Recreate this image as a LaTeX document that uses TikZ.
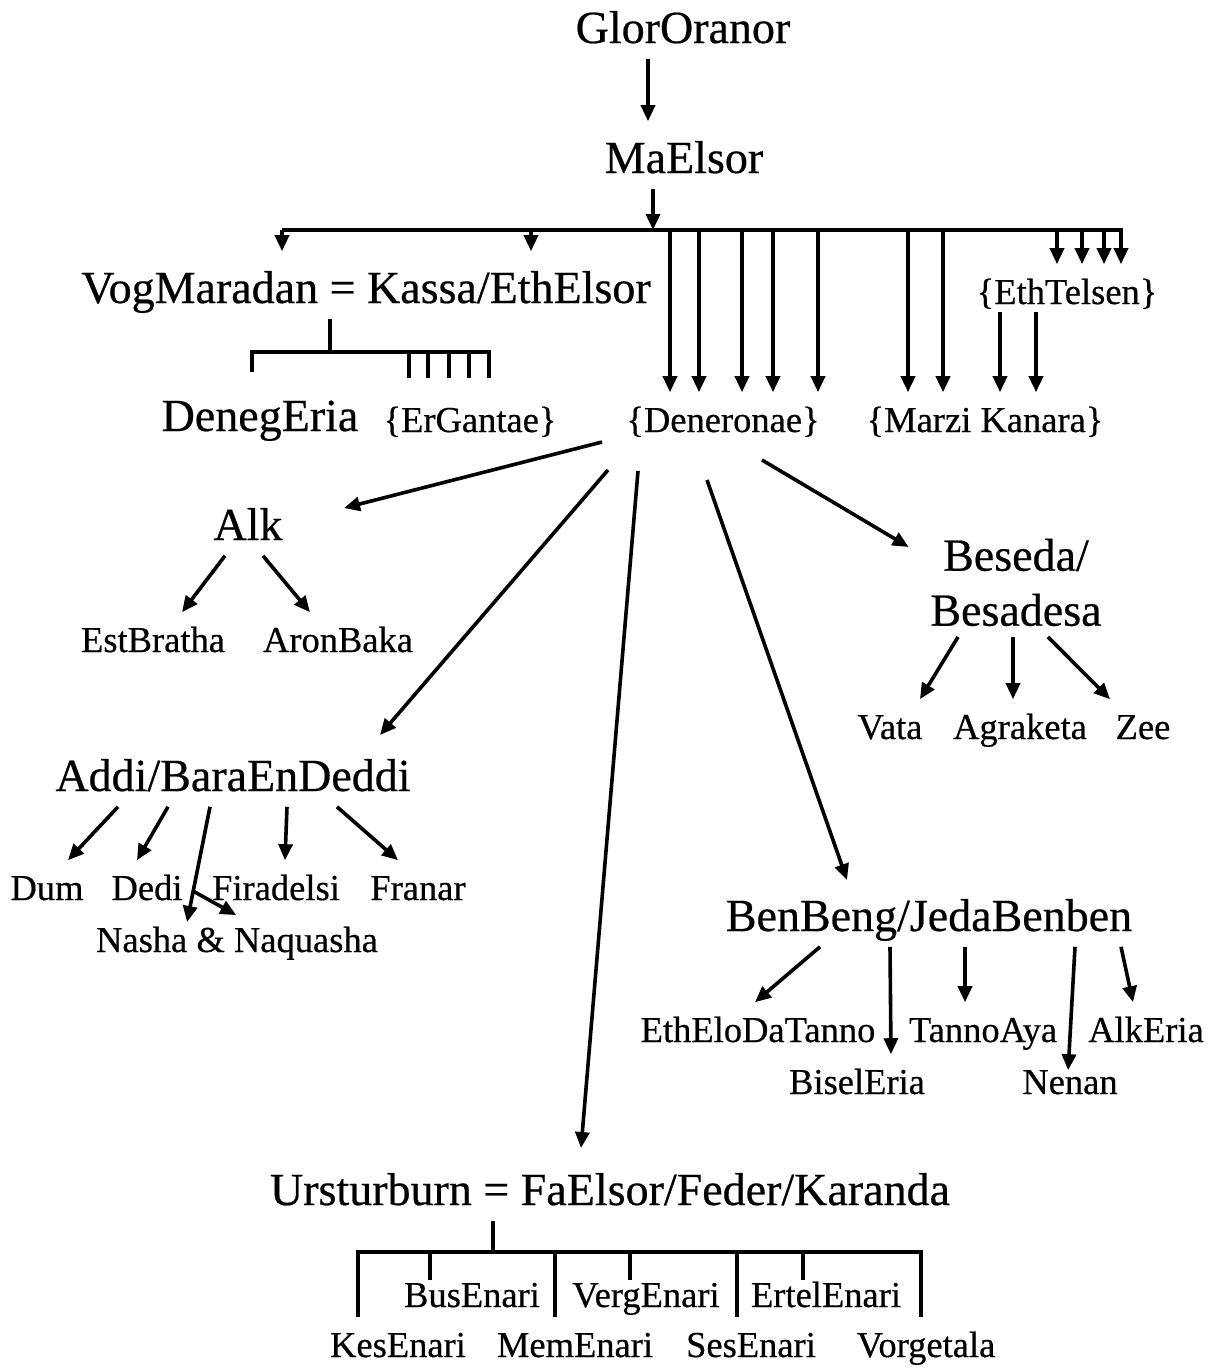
\documentclass[tikz,border=0pt]{standalone}
\usepackage{fontspec}
\setmainfont{Liberation Serif}[FakeBold=0.5]
\usetikzlibrary{arrows.meta}
\newcommand{\lblbig}{\fontsize{46}{55}\selectfont}
\newcommand{\lblsmall}{\fontsize{36.5}{40}\selectfont}

\begin{document}
\begin{tikzpicture}[x=1pt,y=-1pt,line width=3.6pt,
    arr/.style={-{Triangle[length=16pt,width=14pt]}},
    big/.style={font=\lblbig,inner sep=0pt,anchor=base,text height=50pt,text depth=14pt},
    small/.style={font=\lblsmall,inner sep=0pt,anchor=base,text height=38pt,text depth=6pt}]
  \useasboundingbox (0,0) rectangle (1209,1368);

  \node[big] (glor) at (683,43) {GlorOranor};
  \node[big] (mael) at (684,173) {MaElsor};

  \node[big] (vog) at (366,303) {VogMaradan = Kassa/EthElsor};
  \node[small] (ethtel) at (1067,304) {\{EthTelsen\}};
  \node[big] (deneg) at (260,431) {DenegEria};
  \node[small] (ergan) at (470,432) {\{ErGantae\}};
  \node[small] (den) at (723,432) {\{Deneronae\}};
  \node[small] (marzi) at (985,432) {\{Marzi Kanara\}};

  \node[big] (alk) at (248,540) {Alk};
  \node[small] (estb) at (153,652) {EstBratha};
  \node[small] (aron) at (338,652) {AronBaka};

  \node[font=\lblbig,align=center,inner xsep=0pt,inner ysep=9pt,anchor=north]
    (beseda) at (1016,528) {Beseda/\\Besadesa};
  \node[small] (vata) at (890,739) {Vata};
  \node[small] (agr) at (1020,739) {Agraketa};
  \node[small] (zee) at (1143,739) {Zee};

  \node[big] (addi) at (233,791) {Addi/BaraEnDeddi};
  \node[small] (dum) at (47,900) {Dum};
  \node[small] (dedi) at (147,900) {Dedi};
  \node[small] (fir) at (276,900) {Firadelsi};
  \node[small] (fran) at (418,900) {Franar};
  \node[small] (nasha) at (237,952) {Nasha \& Naquasha};

  \node[big] (benb) at (929,931) {BenBeng/JedaBenben};
  \node[small] (etheld) at (758,1042) {EthEloDaTanno};
  \node[small] (tanno) at (983,1042) {TannoAya};
  \node[small] (alkeria) at (1146,1042) {AlkEria};
  \node[small] (bisel) at (857,1094) {BiselEria};
  \node[small] (nenan) at (1070,1094) {Nenan};

  \node[big] (urst) at (610,1205) {Ursturburn = FaElsor/Feder/Karanda};
  \node[small] (bus) at (472,1307) {BusEnari};
  \node[small] (verg) at (646,1307) {VergEnari};
  \node[small] (ertel) at (826,1307) {ErtelEnari};
  \node[small] (kes) at (398,1357) {KesEnari};
  \node[small] (mem) at (575,1357) {MemEnari};
  \node[small] (ses) at (751,1357) {SesEnari};
  \node[small] (vorg) at (926,1357) {Vorgetala};

  \draw[arr] (glor.south -| 648,0) -- (mael.north -| 648,0);

  \coordinate (tb) at (653,230);
  \coordinate (tb-l) at (282,230);
  \coordinate (tb-r) at (1122.5,230);
  \draw[arr] (mael.south -| tb) -- (tb);
  \draw (tb-l) -- (tb-r);
  \foreach \x in {282,531}
    \draw[arr] (tb-l -| \x,0) -- (vog.north -| \x,0);
  \foreach \x in {670,699,742,773,818}
    \draw[arr] (tb-l -| \x,0) -- (den.north -| \x,0);
  \foreach \x in {908,943}
    \draw[arr] (tb-l -| \x,0) -- (marzi.north -| \x,0);
  \foreach \x in {1057,1082,1104,1121}
    \draw[arr] (tb-l -| \x,0) -- (ethtel.north -| \x,0);
  \foreach \x in {1000,1036}
    \draw[arr] (ethtel.south -| \x,0) -- (marzi.north -| \x,0);

  \coordinate (vb-l) at (252,352);
  \coordinate (vb-r) at (489,352);
  \draw (vog.south -| 330,0) -- (vb-l -| 330,0);
  \draw (vb-l) ++(0,20) -- (vb-l) -- (vb-r) -- ++(0,26);
  \foreach \x in {409,428,449,469}
    \draw (vb-l -| \x,0) -- ++(0,26);

  \draw[arr] ([shift={(-121,10)}]den.base) -- ([shift={(96,-32)}]alk.base);
  \draw[arr] ([shift={(-115,38)}]den.base) -- ([shift={(147,-56)}]addi.base);
  \draw[arr] ([shift={(-85,39)}]den.base) -- ([shift={(-29,-57)}]urst.base);
  \draw[arr] ([shift={(-16,48)}]den.base) -- ([shift={(-82,-51)}]benb.base);
  \draw[arr] ([shift={(39,28)}]den.base) -- ([shift={(-20,19)}]beseda.north west);

  \draw[arr] (alk.south -| 225,0) -- (estb.north -| 182,0);
  \draw[arr] (alk.south -| 263,0) -- (aron.north -| 310,0);

  \draw[arr] (beseda.south -| 958,0) -- (vata.north -| 920,0);
  \draw[arr] (beseda.south -| 1013,0) -- (agr.north -| 1013,0);
  \draw[arr] (beseda.south -| 1048,0) -- (zee.north -| 1110,0);

  \draw[arr] (addi.south -| 118,0) -- (dum.north -| 68,0);
  \draw[arr] (addi.south -| 168,0) -- (dedi.north -| 137,0);
  \draw[arr,shorten >=-10pt] (addi.south -| 210,0) -- coordinate[pos=0.8] (nsplit) (nasha.north -| 189,0);
  \draw[arr,shorten >=-6pt] (nsplit) -- (nasha.north -| 231,0);
  \draw[arr] (addi.south -| 287,0) -- (fir.north -| 285,0);
  \draw[arr] (addi.south -| 337,0) -- (fran.north -| 398,0);

  \draw[arr] (benb.south -| 820,0) -- (etheld.north -| 755,0);
  \draw[arr] (benb.south -| 890,0) -- (bisel.north -| 891,0);
  \draw[arr] (benb.south -| 965,0) -- (tanno.north -| 965,0);
  \draw[arr,shorten >=-16pt] (benb.south -| 1075,0) -- (nenan.north -| 1069,0);
  \draw[arr] (benb.south -| 1121,0) -- (alkeria.north -| 1133,0);

  \coordinate (ub-l) at (358,1252);
  \coordinate (ub-r) at (921,1252);
  \draw (urst.south -| 493,0) -- (ub-l -| 493,0);
  \draw (kes.north -| ub-l) -- (ub-l) -- (ub-r) -- (vorg.north -| ub-r);
  \foreach \x/\n in {555/mem,737/ses}
    \draw (ub-l -| \x,0) -- (\n.north -| \x,0);
  \foreach \x in {430,630,803}
    \draw (ub-l -| \x,0) -- ++(0,28);
\end{tikzpicture}
\end{document}
